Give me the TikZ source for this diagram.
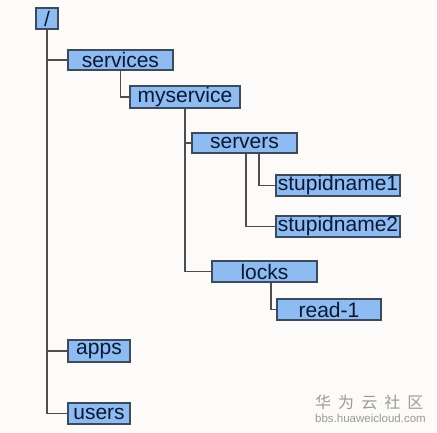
\documentclass[tikz,border=0pt]{standalone}
\usepackage{fontspec}
\setmainfont{Liberation Sans}
\newfontfamily\cjkfont[LetterSpace=44]{Noto Sans CJK SC}
\usepackage{tikz}
\usepackage{xcolor}
\usetikzlibrary{positioning, calc}
\definecolor{ZK_Fill}{HTML}{8DBBF2}
\definecolor{ZK_Edge}{HTML}{3C4A5A}
\definecolor{ZK_Text}{HTML}{0B1830}
\definecolor{ZK_Line}{HTML}{4E4E4E}
\definecolor{ZK_Back}{HTML}{FCFBF9}
\definecolor{ZK_Mark}{HTML}{9A9A9A}

\begin{document}
\begin{tikzpicture}[x=1pt, y=-1pt,
  znode/.style={draw=ZK_Edge, fill=ZK_Fill, line width=1.2pt, inner sep=0pt,
    text=ZK_Text, font=\fontsize{21}{23}\selectfont, minimum height=21pt},
  zlink/.style={draw=ZK_Line, line width=1.4pt}]
% --- Background ---
\fill[ZK_Back] (0,0) rectangle (437,433);
\useasboundingbox (0,0) rectangle (437,433);
% --- Znodes ---
\node[znode, minimum width=22pt] (root) at (47,18.5) {/};
\node[znode, minimum width=105pt, minimum height=20pt] (services) at (120.5,60) {services};
\node[znode, minimum width=110pt, minimum height=22pt] (myservice) at (185,97) {myservice};
\node[znode, minimum width=105pt, minimum height=20pt] (servers) at (244.5,143) {servers};
\node[znode, minimum width=124pt] (stupid1) at (338,185.5) {stupidname1};
\node[znode, minimum width=124pt] (stupid2) at (338,226.5) {stupidname2};
\node[znode, minimum width=105pt] (locks) at (264.5,271.5) {locks};
\node[znode, minimum width=104pt] (read1) at (329,309.5) {read-1};
\node[znode, minimum width=62pt, minimum height=22pt] (apps) at (99,351) {apps};
\node[znode, minimum width=62pt] (users) at (99,413.5) {users};
% --- Links ---
\draw[zlink] (root.south) |- (services.west);
\draw[zlink] (root.south) |- (apps.west);
\draw[zlink] (root.south) |- (users.west);
\draw[zlink] (services.south) |- (myservice.west);
\draw[zlink] (myservice.south) |- (servers.west);
\draw[zlink] (myservice.south) |- (locks.west);
\draw[zlink] ([xshift=14.5pt]servers.south) |- (stupid1.west);
\draw[zlink] ([xshift=1.5pt]servers.south) |- (stupid2.west);
\draw[zlink] ([xshift=6.5pt]locks.south) |- (read1.west);
% --- Watermark ---
\node[text=ZK_Mark, font=\cjkfont\fontsize{16}{18}\selectfont, anchor=west, inner sep=0pt] (markcn) at (315,402) {华为云社区};
\node[text=ZK_Mark, font=\fontsize{11.5}{13}\selectfont, anchor=west, inner sep=0pt] (markurl) at (315,418.5) {bbs.huaweicloud.com};
\end{tikzpicture}
\end{document}
